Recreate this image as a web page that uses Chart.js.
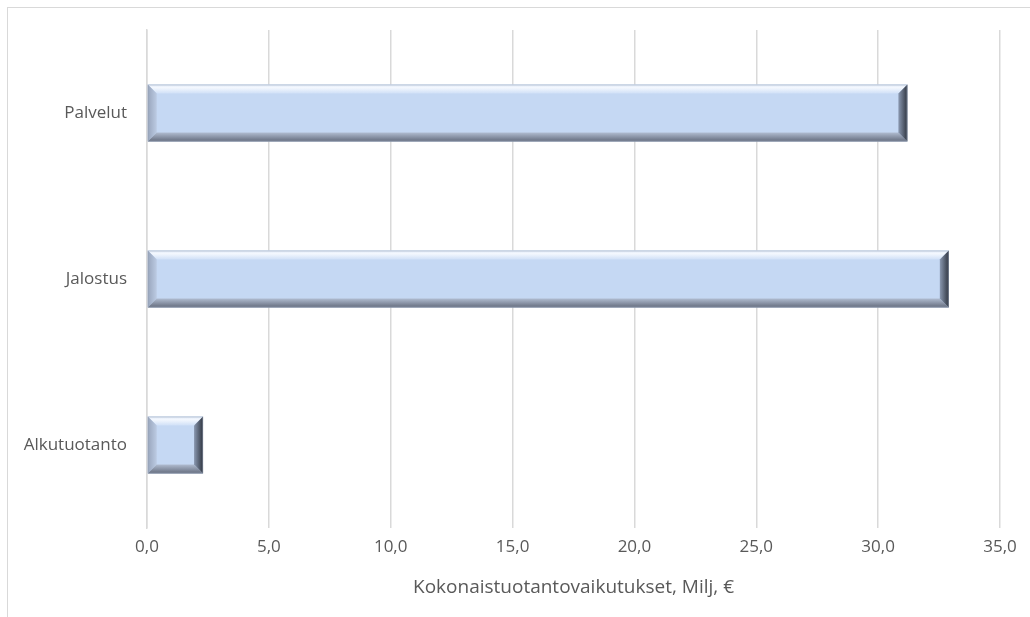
<!DOCTYPE html>
<html>
<head>
<meta charset="utf-8">
<script src="https://cdn.jsdelivr.net/npm/chart.js@4.4.1/dist/chart.umd.min.js"></script>
<style>
    html, body { margin: 0; padding: 0; background: #fff; overflow: hidden; }
    #wrap { position: relative; width: 1030px; height: 617px; }
    #frame {
        position: absolute; left: 7px; top: 7px;
        width: 1100px; height: 700px;
        border: 1px solid #d9d9d9;
    }
    #chart { position: absolute; left: 0; top: 0; }
</style>
</head>
<body>
<div id="wrap">
    <div id="frame"></div>
    <canvas id="chart" width="1030" height="617"></canvas>
</div>
<script>
const categories = ['Palvelut', 'Jalostus', 'Alkutuotanto'];
const values = [31.2, 32.9, 2.3];
const axisTitle = 'Kokonaistuotantovaikutukset, Milj, €';

const TEXT_COLOR = '#595959';
const GRID_COLOR = '#d9d9d9';
const FONT = '"Open Sans", "Liberation Sans", sans-serif';

// Draws the bevelled "button" look on each bar, using the bar elements' geometry
const bevelPlugin = {
    id: 'bevel',
    afterDatasetsDraw(chart) {
        const ctx = chart.ctx;
        const meta = chart.getDatasetMeta(0);
        meta.data.forEach(bar => {
            const p = bar.getProps(['x', 'y', 'base', 'height'], true);
            const l = Math.min(p.base, p.x), r = Math.max(p.base, p.x);
            const t = p.y - p.height / 2, b = p.y + p.height / 2;
            const s = Math.min(9, (r - l) / 2);

            ctx.save();
            ctx.fillStyle = '#c5d8f3';
            ctx.fillRect(l, t, r - l, b - t);

            // top
            let g = ctx.createLinearGradient(0, t, 0, t + s);
            g.addColorStop(0, '#dfe9f8');
            g.addColorStop(0.35, '#f4f8fe');
            g.addColorStop(1, '#d0e0f7');
            ctx.fillStyle = g;
            ctx.beginPath();
            ctx.moveTo(l, t); ctx.lineTo(r, t); ctx.lineTo(r - s, t + s); ctx.lineTo(l + s, t + s);
            ctx.closePath(); ctx.fill();

            // left
            g = ctx.createLinearGradient(l, 0, l + s, 0);
            g.addColorStop(0, '#98a5bc');
            g.addColorStop(1, '#bccbe3');
            ctx.fillStyle = g;
            ctx.beginPath();
            ctx.moveTo(l, t); ctx.lineTo(l + s, t + s); ctx.lineTo(l + s, b - s); ctx.lineTo(l, b);
            ctx.closePath(); ctx.fill();

            // bottom
            g = ctx.createLinearGradient(0, b - s, 0, b);
            g.addColorStop(0, '#b0bcd0');
            g.addColorStop(1, '#646c7d');
            ctx.fillStyle = g;
            ctx.beginPath();
            ctx.moveTo(l, b); ctx.lineTo(l + s, b - s); ctx.lineTo(r - s, b - s); ctx.lineTo(r, b);
            ctx.closePath(); ctx.fill();

            // right
            g = ctx.createLinearGradient(r - s, 0, r, 0);
            g.addColorStop(0, '#8a98b0');
            g.addColorStop(1, '#2f3540');
            ctx.fillStyle = g;
            ctx.beginPath();
            ctx.moveTo(r, t); ctx.lineTo(r, b); ctx.lineTo(r - s, b - s); ctx.lineTo(r - s, t + s);
            ctx.closePath(); ctx.fill();

            ctx.strokeStyle = 'rgba(150,160,180,0.5)';
            ctx.lineWidth = 1;
            ctx.strokeRect(l + 0.5, t + 0.5, r - l - 1, b - t - 1);
            ctx.restore();
        });
    }
};

new Chart(document.getElementById('chart'), {
    type: 'bar',
    data: {
        labels: categories,
        datasets: [{
            data: values,
            backgroundColor: 'rgba(0,0,0,0)',
            borderWidth: 0,
            barThickness: 57
        }]
    },
    options: {
        indexAxis: 'y',
        responsive: false,
        animation: false,
        layout: { padding: { top: 30, right: 30, bottom: 18, left: 0 } },
        plugins: {
            legend: { display: false },
            tooltip: { enabled: false }
        },
        scales: {
            x: {
                min: 0,
                max: 35,
                ticks: {
                    stepSize: 5,
                    padding: 9,
                    color: TEXT_COLOR,
                    font: { family: FONT, size: 17 },
                    callback: v => v.toFixed(1).replace('.', ',')
                },
                grid: { color: GRID_COLOR, lineWidth: 1.5, drawTicks: false },
                border: { display: false },
                title: {
                    display: true,
                    text: axisTitle,
                    color: TEXT_COLOR,
                    font: { family: FONT, size: 19 },
                    padding: { top: 0, bottom: 0 }
                },
                afterFit(scale) { scale.height = 71; }
            },
            y: {
                ticks: {
                    padding: 12,
                    color: TEXT_COLOR,
                    font: { family: FONT, size: 17 }
                },
                grid: { display: false },
                border: { display: true, color: GRID_COLOR, width: 1.5 },
                afterFit(scale) { scale.width = 147; }
            }
        }
    },
    plugins: [bevelPlugin]
});
</script>
</body>
</html>
